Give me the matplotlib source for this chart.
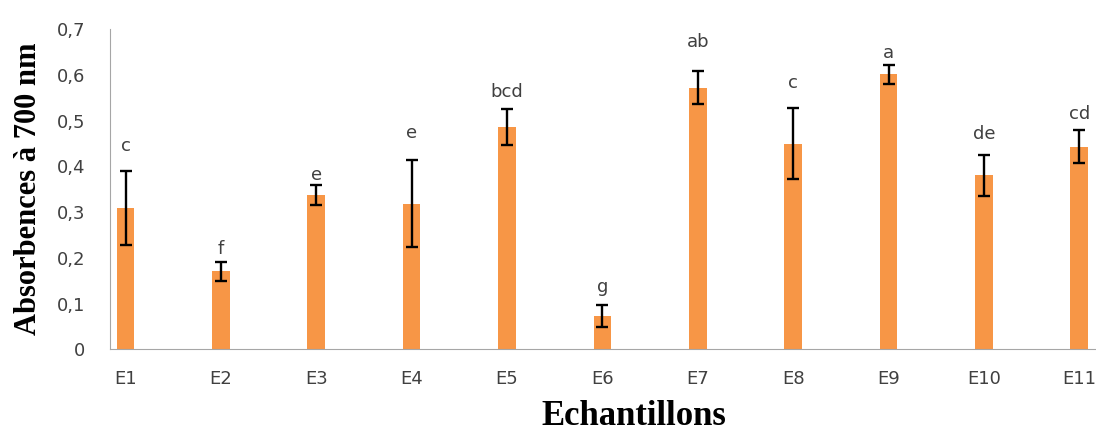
import matplotlib
matplotlib.use('Agg')
import matplotlib.pyplot as plt

# data
samples = ['E1', 'E2', 'E3', 'E4', 'E5', 'E6', 'E7', 'E8', 'E9', 'E10', 'E11']
absorbance = [0.310, 0.171, 0.337, 0.319, 0.487, 0.073, 0.572, 0.450, 0.602, 0.381, 0.443]
errors = [0.081, 0.021, 0.022, 0.095, 0.039, 0.025, 0.036, 0.077, 0.021, 0.045, 0.036]
groups = ['c', 'f', 'e', 'e', 'bcd', 'g', 'ab', 'c', 'a', 'de', 'cd']
yticks = [0, 0.1, 0.2, 0.3, 0.4, 0.5, 0.6, 0.7]

# gap (pixels) between error bar top and the letter, as placed in the original
label_gap = [25, 13, 10, 27, 17, 18, 29, 25, 12, 21, 16]

BAR_COLOR = '#F79646'
TEXT_COLOR = '#404040'
AXIS_COLOR = '#A6A6A6'

fig = plt.figure(figsize=(10.96, 4.25), dpi=100)
ax = fig.add_axes([0.1004, 0.178, 0.8996, 0.753])

x = list(range(len(samples)))
ax.bar(x, absorbance, width=0.185, color=BAR_COLOR, zorder=2)
ax.errorbar(x, absorbance, yerr=errors, fmt='none', ecolor='black',
            elinewidth=1.7, capsize=4.5, capthick=1.7, zorder=3)

for xi, val, err, grp, gap in zip(x, absorbance, errors, groups, label_gap):
    ax.annotate(grp, (xi, val + err), xytext=(0, gap), textcoords='offset pixels',
                ha='center', va='center', fontsize=13, color=TEXT_COLOR,
                family='DejaVu Sans')

ax.set_xlim(-0.1625, 10.175)
ax.set_ylim(0, 0.7)
ax.set_yticks(yticks)
ax.set_yticklabels(['0' if t == 0 else ('%.1f' % t).replace('.', ',') for t in yticks])
ax.set_xticks(x)
ax.set_xticklabels(samples)

for lab in ax.get_xticklabels() + ax.get_yticklabels():
    lab.set_family('DejaVu Sans')
    lab.set_fontsize(13)
    lab.set_color(TEXT_COLOR)

ax.tick_params(axis='both', length=0)
ax.tick_params(axis='x', pad=15)
ax.tick_params(axis='y', pad=18)
ax.spines['top'].set_visible(False)
ax.spines['right'].set_visible(False)
ax.spines['left'].set_color(AXIS_COLOR)
ax.spines['bottom'].set_color(AXIS_COLOR)

fig.text(0.026, 0.555, 'Absorbences à 700 nm', rotation=90, ha='center', va='center',
         fontsize=22, fontweight='bold', family='Liberation Serif')
fig.text(0.578, 1 - 400.0 / 425, 'Echantillons', ha='center', va='top',
         fontsize=25, fontweight='bold', family='Liberation Serif')

fig.savefig('out.png', dpi=100)
